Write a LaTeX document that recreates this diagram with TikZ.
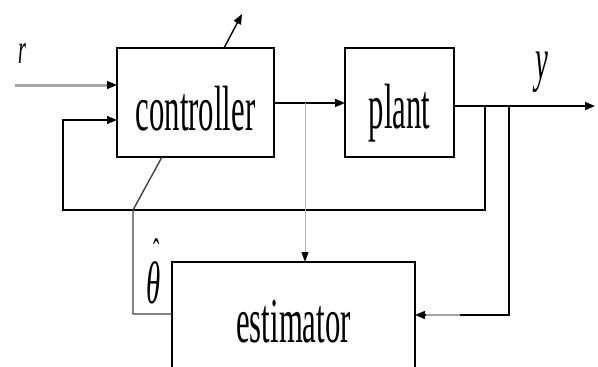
\documentclass[tikz,border=0pt]{standalone}
\usepackage{fontspec}
\setmainfont{Liberation Serif}
\newfontfamily\cond[FakeStretch=0.48]{Liberation Serif}
\usetikzlibrary{arrows.meta}
\tikzset{
  blk/.style={draw=black, line width=1.7pt, minimum width=#1},
  wire/.style={draw=black, line width=1.4pt},
  arr/.style={-{Triangle[length=10pt,width=8pt]}},
  boxtxt/.style={font=\cond\fontsize{64}{64}\selectfont, inner sep=0pt, anchor=base},
  vartxt/.style={font=\cond\itshape\fontsize{60}{60}\selectfont, inner sep=0pt}
}
\begin{document}
\begin{tikzpicture}[x=1pt,y=-1pt]
\clip (0,0) rectangle (598,367);
\useasboundingbox (0,0) rectangle (598,367);
% boxes
\node[blk=157pt, minimum height=109pt, inner sep=0pt] (ctrl) at (195.5,102.5) {};
\node[blk=109pt, minimum height=109pt, inner sep=0pt] (plant) at (399.5,102.5) {};
\node[blk=243pt, minimum height=160pt, inner sep=0pt] (est) at (293.5,342) {};
% texts
\node[boxtxt] (tc) at (195.5,130) {controller};
\node[boxtxt] (tp) at (399.5,128) {plant};
\node[boxtxt] (te) at (293.5,342) {estimator};
\node[vartxt, font=\cond\itshape\fontsize{42}{42}\selectfont] (lr) at (22,54) {r};
\node[vartxt] (ly) at (542,72) {y};
\node[vartxt, anchor=base] (lth) at (153.5,303)
  {\rlap{\hspace*{7pt}\raisebox{37pt}{\cond\upshape\fontsize{40}{40}\selectfont ˆ}}θ};
% coordinates
\coordinate (rin) at (15,85);
\coordinate (rend) at (117,85);
\coordinate (c1) at (274,103);
\coordinate (p1) at (345,103);
\coordinate (po) at (454,106);
\coordinate (yend) at (595,106);
\coordinate (fb1) at (485,106);
\coordinate (fb2) at (485,210);
\coordinate (fb3) at (63,210);
\coordinate (fb4) at (63,120);
\coordinate (fb5) at (117,120);
\coordinate (e1) at (509,106);
\coordinate (e2) at (509,315);
\coordinate (e3) at (460,315);
\coordinate (e4) at (415,315);
\coordinate (g1) at (305,103);
\coordinate (g2) at (305,262);
\coordinate (t1) at (162,157);
\coordinate (t2) at (133,210);
\coordinate (t3) at (133,314);
\coordinate (t4) at (172,314);
\coordinate (a1) at (224,48);
\coordinate (a2) at (242,14);
% connectors
\draw[line width=3pt, draw=gray!70] (rin) -- ([xshift=-9pt]rend);
\draw[wire, arr] ([xshift=-10pt]rend) -- (rend);
\draw[wire, arr] (c1) -- (p1);
\draw[wire, arr] (po) -- (yend);
\draw[wire, arr] (fb1) -- (fb2) -- (fb3) -- (fb4) -- (fb5);
\draw[wire] (e1) -- (e2) -- (e3);
\draw[line width=2.6pt, draw=gray!70] (e3) -- ([xshift=9pt]e4);
\draw[wire, arr] ([xshift=10pt]e4) -- (e4);
\draw[line width=1pt, draw=gray!60, -{Triangle[length=10pt,width=7pt,fill=black,color=black]}] (g1) -- (g2);
\draw[wire, draw=black!75] (t1) -- (t2) -- (t3) -- (t4);
\draw[wire, arr] (a1) -- (a2);
\end{tikzpicture}
\end{document}
